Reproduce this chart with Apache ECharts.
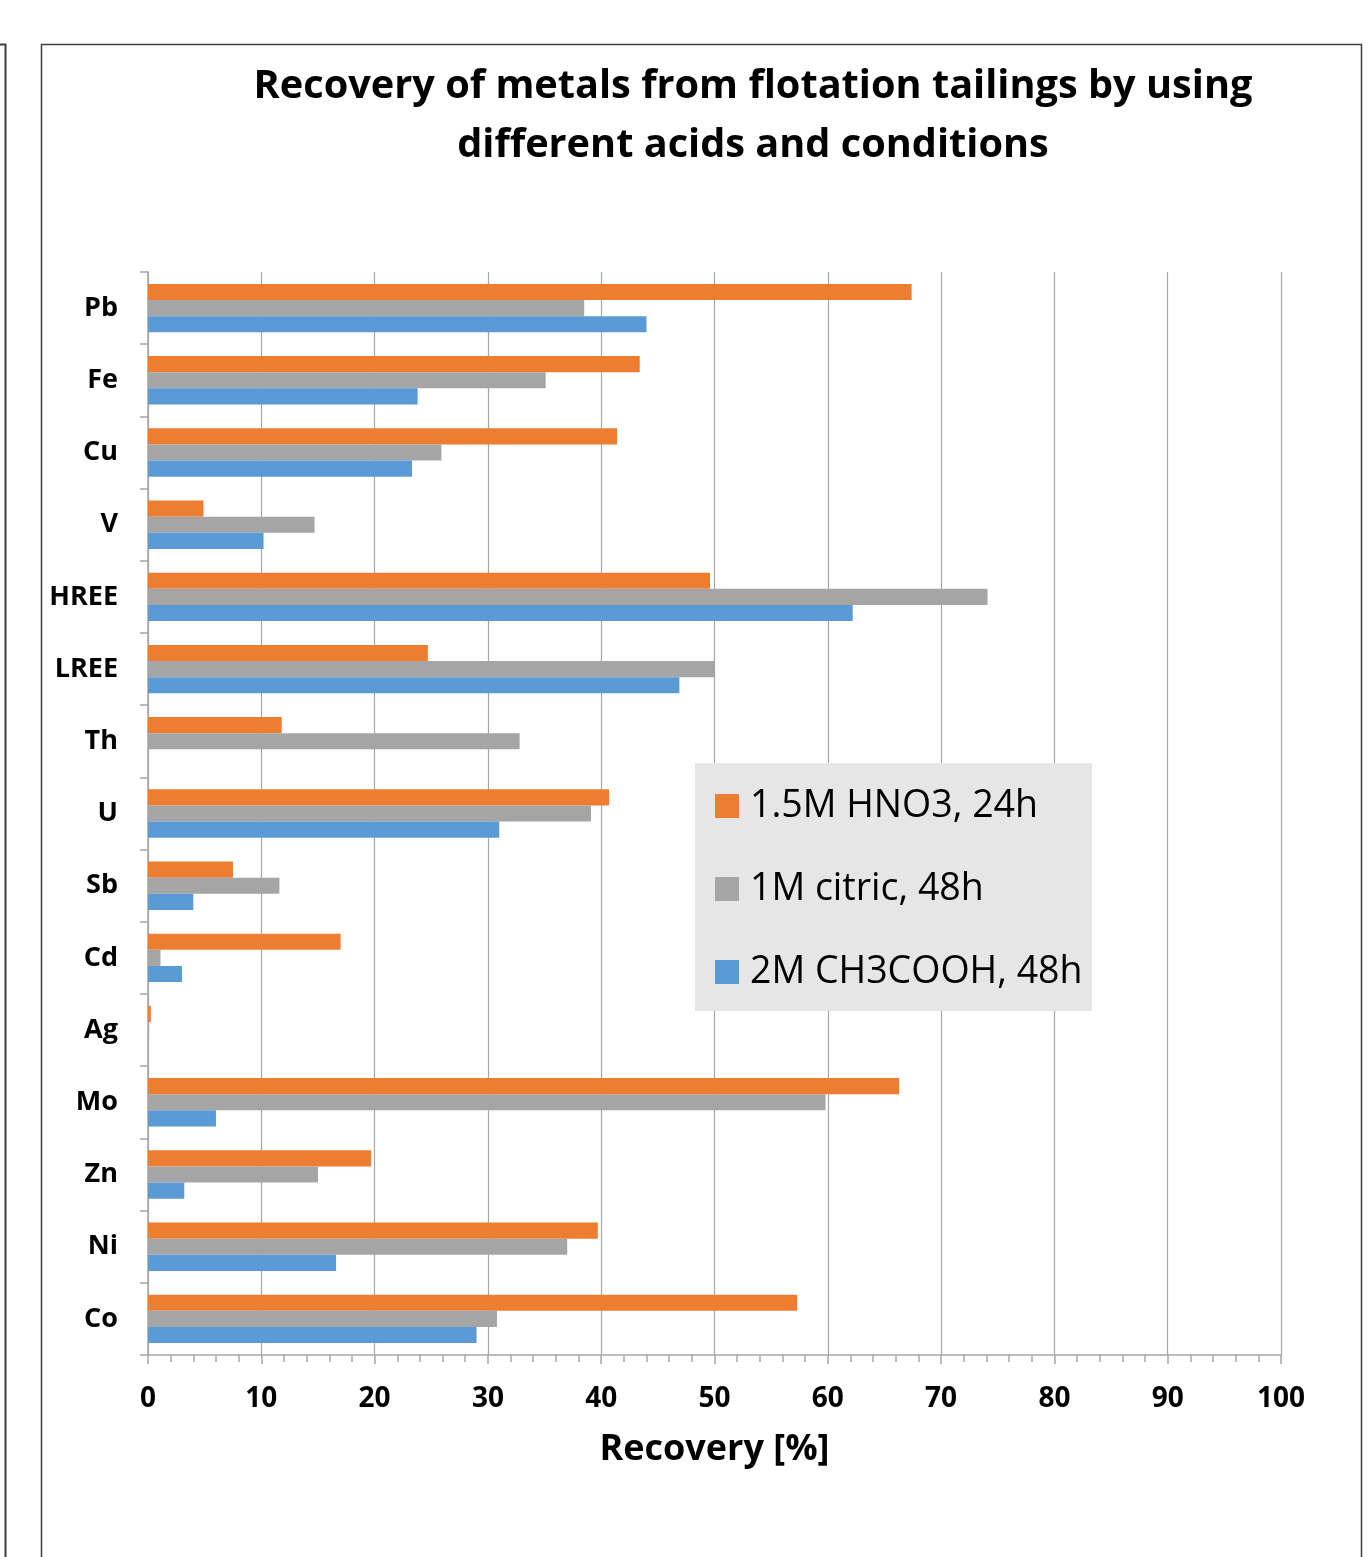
<!DOCTYPE html>
<html>
<head>
<meta charset="utf-8">
<title>Recovery of metals from flotation tailings</title>
<script src="https://cdn.jsdelivr.net/npm/echarts@6/dist/echarts.min.js"></script>
<style>
  html, body { margin: 0; padding: 0; background: #ffffff; }
  #chart { width: 1370px; height: 1557px; }
</style>
</head>
<body>
<div id="chart"></div>
<script>
// Metals, listed from top to bottom
const categories = ['Pb', 'Fe', 'Cu', 'V', 'HREE', 'LREE', 'Th', 'U', 'Sb', 'Cd', 'Ag', 'Mo', 'Zn', 'Ni', 'Co'];

// Recovery [%] per leaching condition
const hno3   = [67.4, 43.4, 41.4, 4.9, 49.6, 24.7, 11.8, 40.7, 7.5, 17.0, 0.25, 66.3, 19.7, 39.7, 57.3];
const citric = [38.5, 35.1, 25.9, 14.7, 74.1, 50.0, 32.8, 39.1, 11.6, 1.1, 0.1, 59.8, 15.0, 37.0, 30.8];
const acetic = [44.0, 23.8, 23.3, 10.2, 62.2, 46.9, 0, 31.0, 4.0, 3.0, 0, 6.0, 3.2, 16.6, 29.0];

const seriesNames = ['1.5M HNO3, 24h', '1M citric, 48h', '2M CH3COOH, 48h'];
const seriesColors = ['#ED7D31', '#A5A5A5', '#5B9BD5'];

const FONT = '"Open Sans", "Liberation Sans", sans-serif';
const chart = echarts.init(document.getElementById('chart'), null, { renderer: 'canvas' });

const seriesData = [hno3, citric, acetic];

chart.setOption({
  animation: false,
  backgroundColor: '#ffffff',
  textStyle: { fontFamily: FONT },
  title: {
    text: 'Recovery of metals from flotation tailings by using\ndifferent acids and conditions',
    left: 753,
    top: 57,
    textAlign: 'center',
    padding: 0,
    textStyle: {
      fontFamily: FONT,
      fontWeight: 'bold',
      fontSize: 39.7,
      lineHeight: 59,
      color: '#000000'
    }
  },
  legend: {
    orient: 'vertical',
    left: 715,
    top: 784,
    padding: 0,
    itemWidth: 24,
    itemHeight: 24,
    itemGap: 39,
    icon: 'rect',
    data: seriesNames,
    textStyle: {
      fontFamily: FONT,
      fontSize: 37.5,
      lineHeight: 44,
      color: '#000000',
      padding: [0, 0, 0, 6]
    }
  },
  grid: {
    left: 148,
    right: 89,
    top: 272,
    bottom: 202,
    containLabel: false
  },
  xAxis: {
    type: 'value',
    min: 0,
    max: 100,
    interval: 10,
    name: 'Recovery [%]',
    nameLocation: 'middle',
    nameGap: 75,
    nameTextStyle: {
      fontFamily: FONT,
      fontWeight: 'bold',
      fontSize: 36,
      lineHeight: 40,
      color: '#000000'
    },
    axisLine: { show: true, lineStyle: { color: '#a6a6a6', width: 1.5 } },
    axisTick: { show: true, length: 9, lineStyle: { color: '#a6a6a6', width: 1.5 } },
    minorTick: { show: true, splitNumber: 5, length: 7, lineStyle: { color: '#a6a6a6', width: 1.5 } },
    splitLine: { show: true, lineStyle: { color: '#a6a6a6', width: 1.2 } },
    axisLabel: {
      margin: 29,
      fontFamily: FONT,
      fontWeight: 'bold',
      fontSize: 28,
      lineHeight: 30,
      color: '#000000'
    }
  },
  yAxis: {
    type: 'category',
    data: categories,
    inverse: true,
    axisLine: { show: true, lineStyle: { color: '#a6a6a6', width: 1.5 } },
    axisTick: { show: true, length: 8, lineStyle: { color: '#a6a6a6', width: 1.5 } },
    axisLabel: {
      margin: 30,
      fontFamily: FONT,
      fontWeight: 'bold',
      fontSize: 27,
      padding: [6, 0, 0, 0],
      color: '#000000'
    },
    splitLine: { show: false }
  },
  series: seriesNames.map((name, i) => ({
    name: name,
    type: 'bar',
    data: seriesData[i],
    barGap: '0%',
    barCategoryGap: '33%',
    itemStyle: { color: seriesColors[i] }
  })),
  graphic: [
    // legend panel
    {
      type: 'rect',
      z: 3,
      shape: { x: 695, y: 763, width: 397, height: 248 },
      style: { fill: '#e6e6e6' }
    },
    // chart frame
    {
      type: 'polyline',
      z: 10,
      shape: { points: [[41.5, 1557], [41.5, 44.5], [1361.5, 44.5], [1361.5, 1557]] },
      style: { stroke: '#3f3f3f', lineWidth: 1.5, fill: null }
    },
    // edge of the neighbouring frame
    {
      type: 'polyline',
      z: 10,
      shape: { points: [[0, 44.5], [5.5, 44.5], [5.5, 1557]] },
      style: { stroke: '#3f3f3f', lineWidth: 2, fill: null }
    }
  ]
});
</script>
</body>
</html>
